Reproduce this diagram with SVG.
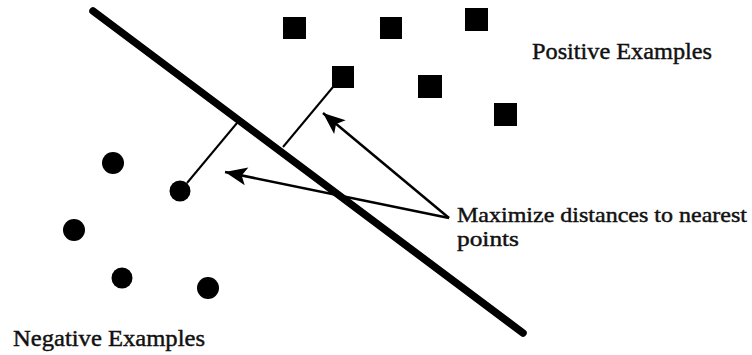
<svg xmlns="http://www.w3.org/2000/svg" width="752" height="355" viewBox="0 0 752 355">
  <style>
    .pos { fill: #000; }
    .neg { fill: #000; }
    .sep { stroke: #000; stroke-width: 7.5; stroke-linecap: round; fill: none; }
    .gap { stroke: #000; stroke-width: 2; fill: none; }
    .arr { stroke: #000; stroke-width: 2.5; fill: none; marker-end: url(#head); }
    .lbl { font-family: "Liberation Serif", "Times New Roman", serif; font-size: 24px; fill: #111; stroke: #111; stroke-width: 0.45; }
    .note { font-size: 22px; }
  </style>
  <defs>
    <marker id="head" markerUnits="userSpaceOnUse" markerWidth="24" markerHeight="20" refX="22" refY="10" orient="auto" overflow="visible">
      <path d="M0,1 L22,10 L0,19 L5,10 z" fill="#000"/>
    </marker>
  </defs>

  <rect width="752" height="355" fill="#fff"/>

  <!-- separating hyperplane -->
  <g id="separator">
    <line class="sep" x1="93" y1="11" x2="523" y2="333"/>
  </g>

  <!-- positive class: squares -->
  <g id="positive-points">
    <rect id="p1" class="pos" x="283" y="17" width="23" height="22"/>
    <rect id="p2" class="pos" x="380" y="17" width="22" height="22"/>
    <rect id="p3" class="pos" x="465" y="8" width="23" height="23"/>
    <rect id="p4" class="pos" x="332" y="66" width="22" height="22"/>
    <rect id="p5" class="pos" x="418" y="75" width="24" height="23"/>
    <rect id="p6" class="pos" x="494" y="103" width="23" height="23"/>
  </g>

  <!-- negative class: dots -->
  <g id="negative-points">
    <circle id="n1" class="neg" cx="113" cy="163" r="11"/>
    <circle id="n2" class="neg" cx="180" cy="191" r="10.5"/>
    <circle id="n3" class="neg" cx="74" cy="230" r="11"/>
    <circle id="n4" class="neg" cx="122" cy="278" r="10.5"/>
    <circle id="n5" class="neg" cx="208" cy="288" r="11"/>
  </g>

  <!-- margin distances and annotation arrows -->
  <g id="connectors">
    <line class="gap" x1="187" y1="183" x2="237" y2="123"/>
    <line class="gap" x1="333" y1="87" x2="283" y2="147"/>
    <line class="arr" x1="449" y1="218" x2="323" y2="113"/>
    <line class="arr" x1="449" y1="218" x2="225" y2="172"/>
  </g>

  <g id="labels">
    <text class="lbl" x="532" y="59" textLength="180" lengthAdjust="spacingAndGlyphs">Positive Examples</text>
    <text class="lbl note" x="457" y="222" textLength="290" lengthAdjust="spacingAndGlyphs">Maximize distances to nearest</text>
    <text class="lbl note" x="457" y="246" textLength="62" lengthAdjust="spacingAndGlyphs">points</text>
    <text class="lbl" x="13" y="346" textLength="192" lengthAdjust="spacingAndGlyphs">Negative Examples</text>
  </g>
</svg>
